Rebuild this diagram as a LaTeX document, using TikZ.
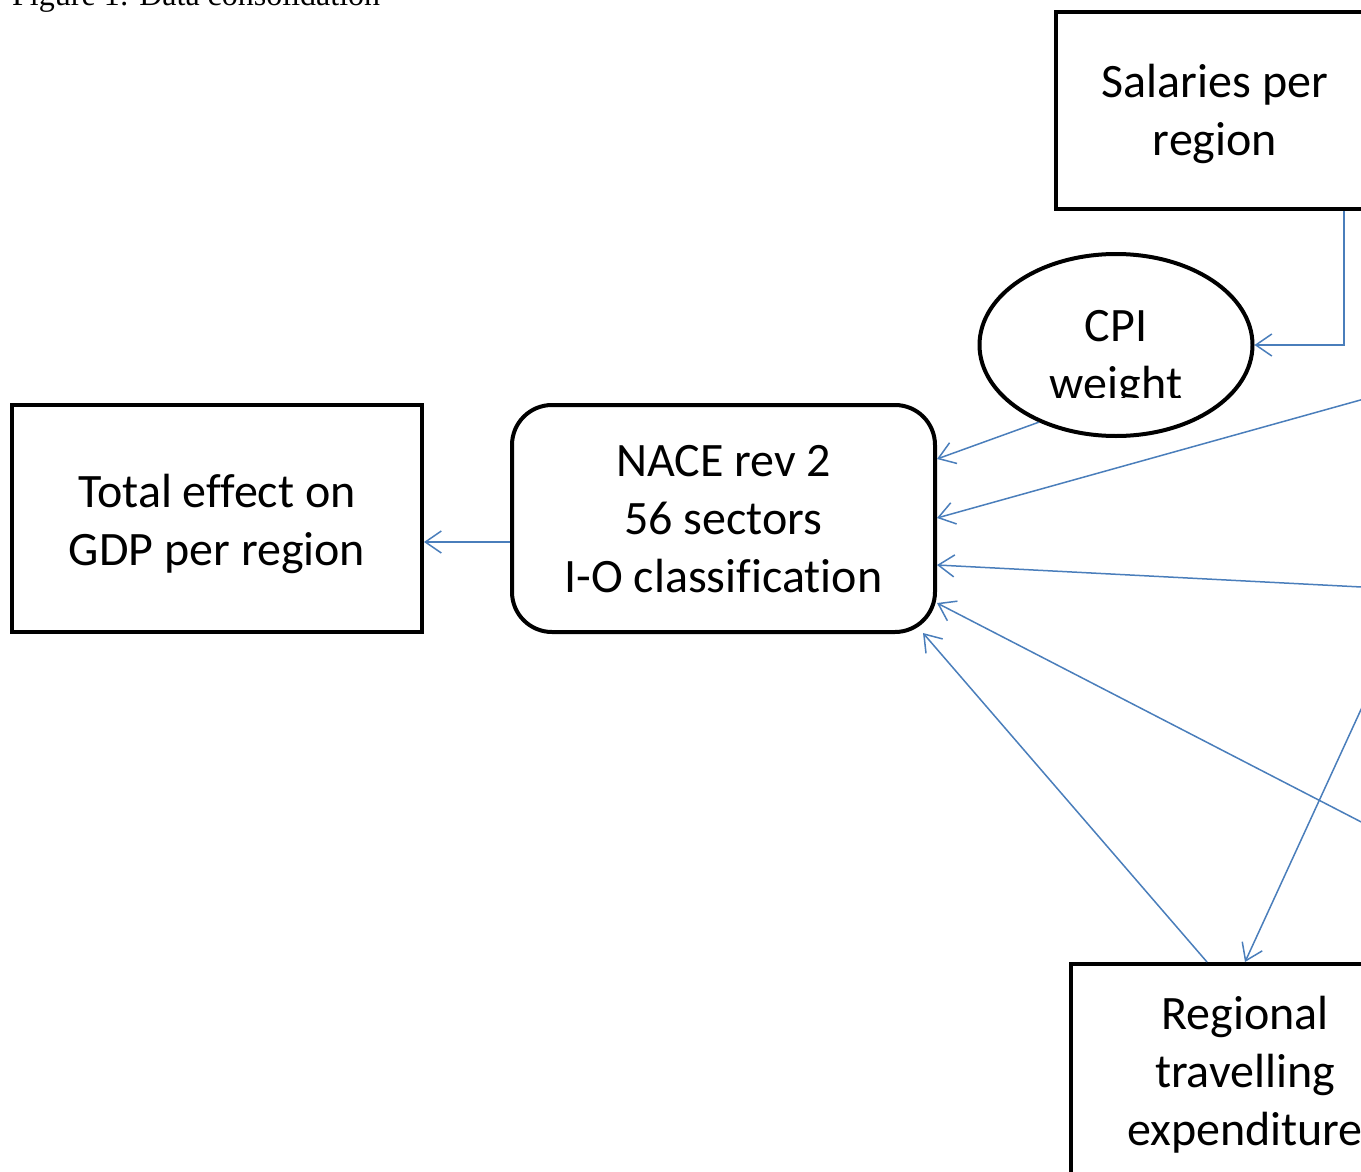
\documentclass[tikz,border=0pt]{standalone}
\usepackage{fontspec}
\setmainfont[Ligatures=NoCommon]{Carlito}
\newfontfamily\titlefont{Liberation Serif}
\usetikzlibrary{arrows.meta,shapes.geometric}
\definecolor{linkblue}{HTML}{4A7EBB}
\begin{document}
\begin{tikzpicture}[x=1pt,y=-1pt,
  boxstyle/.style={draw=black,line width=4pt,rectangle,inner sep=0pt},
  lbl/.style={align=center,inner sep=0pt,font=\fontsize{48}{58}\selectfont,yshift=-5pt},
  conn/.style={draw=linkblue,line width=1.5pt,-{Straight Barb[length=16pt,width=22pt,line width=1.5pt]}}]
\useasboundingbox (0,0) rectangle (1361,1172);
\clip (0,0) rectangle (1361,1172);
% title
\node[anchor=base west,inner sep=0pt,font=\titlefont\fontsize{32}{38}\selectfont] (title) at (12,6) {Figure 1: Data consolidation};
% nodes
\node[boxstyle,minimum width=318pt,minimum height=197pt,label={[lbl,yshift=2pt]center:{Salaries per\\region}}] (sal) at (1215,110.5) {};
\node[draw=black,line width=4pt,ellipse,minimum width=273pt,minimum height=182pt,inner sep=0pt] (cpi) at (1116,345) {};
\begin{scope}
  \clip (900,250) rectangle (1300,397);
  \node[align=center,inner sep=0pt,font=\fontsize{48}{58}\selectfont] (cpitext) at (1116,359) {CPI\\weight};
\end{scope}
\node[boxstyle,rounded corners=40pt,minimum width=423pt,minimum height=227pt,label={[lbl,yshift=4pt]center:{NACE rev 2\\56 sectors\\I-O classification}}] (nace) at (723.5,518.5) {};
\node[boxstyle,minimum width=410pt,minimum height=227pt,label={[lbl]center:{Total effect on\\GDP per region}}] (tot) at (217,518.5) {};
\node[boxstyle,minimum width=348pt,minimum height=220pt,label={[lbl,yshift=4pt]center:{Regional\\travelling\\expenditure}}] (reg) at (1245,1074) {};
% off-frame sources
\coordinate (src1) at (1400,389);
\coordinate (src2) at (1400,589);
\coordinate (src3) at (1400,842);
\coordinate (src4) at (1400,624.6);
\coordinate (salout) at ([xshift=129pt]sal.south);
\coordinate (regout) at ([xshift=-38pt]reg.north);
% connectors
\draw[conn] (salout) |- (cpi.east);
\draw[conn] (cpi.225) -- ([yshift=59.5pt]nace.east);
\draw[conn] (src1) -- ([yshift=0.5pt]nace.east);
\draw[conn] (src2) -- ([yshift=-46.5pt]nace.east);
\draw[conn] (src3) -- ([yshift=-84.5pt]nace.east);
\draw[conn] (regout) -- ([xshift=-14pt,yshift=-114.5pt]nace.east);
\draw[conn] (src4) -- (reg.north);
\draw[conn] ([yshift=-23.5pt]nace.west) -- ([yshift=-23.5pt]tot.east);
\end{tikzpicture}
\end{document}
